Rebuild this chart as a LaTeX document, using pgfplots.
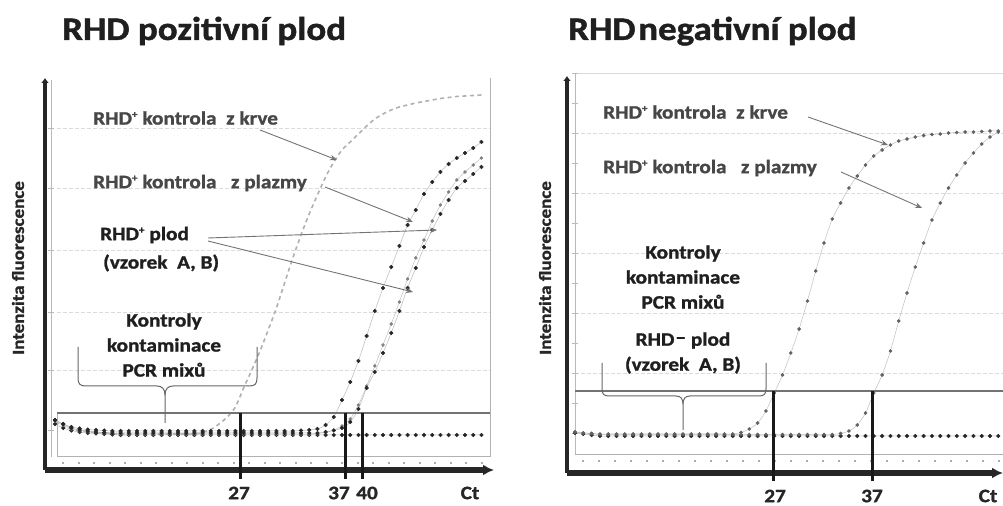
\documentclass[border=0pt]{standalone}
\usepackage{pgfplots}
\pgfplotsset{compat=1.18}
\usepackage{pgfplotstable}
\usetikzlibrary{arrows.meta}
\usepackage{fontspec}
\setmainfont{Carlito}[FakeStretch=1.12, BoldFeatures={FakeBold=1.3}]

\newcommand\ttl{\fontsize{33bp}{36bp}\selectfont\bfseries}
\newcommand\ann{\fontsize{19bp}{25bp}\selectfont\bfseries}
\newcommand\tlab{\fontsize{19bp}{22bp}\selectfont\bfseries}
\newcommand\ylab{\fontsize{17bp}{20bp}\selectfont\bfseries}
\newcommand\supsign[1]{\raisebox{0.75ex}{\fontsize{10bp}{10bp}\selectfont #1}}

% left panel: cycle, fluorescence (arbitrary units)
\pgfplotstableread{
c  neg  blood plasma A    B
1  46   48    50     49   50
2  42   44    46     45   46
3  39.5 41    43     41   42
4  38   39.5  41.5   39.5 40
5  37   38.5  40.5   38.5 39
6  36.5 37.5  40     37.5 38
7  36   37    39.5   37   37.5
8  35.5 36.5  39     36.5 37
9  35   36    39     36   37
10 35   36    39     36   37
11 35   36    39     36   37
12 35   36    39     36   37
13 35   36    39     36   37
14 35   36    39     36   37
15 35   36    39     36   37
16 35   36    39     36   37
17 35   36    39     36   37
18 35   36    39     36   37
19 35   37.5  39     36   37
20 35   40.5  39     36   37
21 35   46    39     36   37
22 35   53    39     36   37
23 35   63    39     36   37
24 35   82    39     36   37
25 35   100   39     36   37
26 35   119   39     36   37
27 35   140   39     36   37
28 35   162   39     36   37
29 35   187   39     36   37
30 35   212   39     36   37
31 35   235   39.5   36   37
32 35   256   40     36   37
33 35   275   41     36.5 37
34 35   293   45     37.5 38
35 35   308   53     40   39.5
36 35   320   70     44   42
37 35   328   88     51   48
38 35   336   109    65   61
39 35   344   134    84   82
40 35   351   159    104  98
41 35   356   182    125  117
42 35   360   203    146  137
43 35   363   224    168  159
44 35   365   245    191  182
45 35   367   260    212  202
46 35   368.5 276    230  223
47 35   370   288    249  240
48 35   371.5 298    265  256
49 35   372.5 306    278  270
50 35   373.5 312    290  282
51 35   374   317    298  289
52 35   374.5 322    305  296
53 35   375   328    312  303
}\leftdata

% right panel: cycle, fluorescence (arbitrary units)
\pgfplotstableread{
c  neg  blood plasma
1  40   41    41
2  39   40    40
3  38   39.5  39.5
4  37   39    38.5
5  37   39    38.5
6  37   39    38.5
7  37   39    38.5
8  37   39    38.5
9  37   39    38.5
10 37   39    38.5
11 37   39    38.5
12 37   39    38.5
13 37   39    38.5
14 37   39    38.5
15 37   39    38.5
16 37   39    38.5
17 37   39    38.5
18 37   39    38.5
19 37   39    38.5
20 37   39    38.5
21 37   40.5  38.5
22 37   44    38.5
23 37   50    38.5
24 37   62    38.5
25 37   80    38.5
26 37   98    38.5
27 37   120   38.5
28 37   144   38.5
29 37   172   38.5
30 37   202   38.5
31 37   230   38.5
32 37   254   38.5
33 37   270   39.5
34 37   285   42
35 37   297   48
36 37   308   60
37 37   317   80
38 37   323   98
39 37   328   122
40 37   332   152
41 37   334   180
42 37   336   206
43 37   337.5 230
44 37   338.5 253
45 37   339   270
46 37   340   285
47 37   340.5 298
48 37   341   310
49 37   341   320
50 37   341.5 329
51 37   342   336
52 37   342   341
}\rightdata

\tikzset{
  ann arrow/.style={draw=black!55, line width=0.9bp, -{Stealth[length=7bp,width=5.5bp]}},
  brc/.style={draw=black!60, line width=1bp},
  px/.style={x=1bp,y=-1bp,shift={(0bp,506bp)}}
}
\pgfplotsset{
  qpcr/.style={
    scale only axis, clip=false,
    ymin=0,
    axis x line=bottom, axis y line=left,
    x axis line style={line width=5bp, black!85, -{Latex[length=11bp,width=11bp]}},
    y axis line style={line width=4.5bp, black!85, -{Latex[length=5bp,width=8bp]}},
    ytick=\empty, major tick length=0pt,
    xticklabel style={anchor=center, yshift=-23bp, font=\tlab, text=black!85},
  },
  dotblack/.style={draw=gray!55, line width=0.5bp, smooth, mark=*, mark size=1.8bp,
    mark options={draw=black!85, fill=black!85, solid}},
  dotgray/.style={draw=gray!50, line width=0.5bp, smooth, mark=*, mark size=1.45bp,
    mark options={draw=black!50, fill=black!50, solid}},
  dotdark/.style={draw=gray!50, line width=0.5bp, smooth, mark=*, mark size=1.55bp,
    mark options={draw=black!62, fill=black!62, solid}},
}

\begin{document}
\begin{tikzpicture}
% ---------- background structure (pixel frame) ----------
\begin{scope}[px]
  % left panel
  \foreach \yy in {128,188,250,312,370}
    \draw[gray!28, line width=0.8bp, dash pattern=on 4bp off 2bp] (57,\yy) -- (490,\yy);
  \draw[gray!55, line width=0.9bp] (51,80) -- (51,457);
  \foreach \yy in {128,188,250,312,370,430}
    \draw[gray!55, line width=0.8bp] (48,\yy) -- (54,\yy);
  \draw[gray!60, line width=1bp] (490,78) -- (490,457);
  \draw[gray!60, line width=1bp] (57,457) -- (490,457);
  \draw[gray!60, line width=1bp] (57,413) -- (57,457);
  \draw[gray!65, line width=2bp, dash pattern=on 2bp off 13.5bp] (62,463) -- (490,463);
  % right panel
  \foreach \yy in {133,193,253,313,373}
    \draw[gray!28, line width=0.8bp, dash pattern=on 4bp off 2bp] (575,\yy) -- (1003,\yy);
  \draw[gray!30, line width=0.8bp] (575,73) -- (1003,73);
  \draw[gray!55, line width=0.9bp] (575,73) -- (575,455);
  \foreach \yy in {73,103,133,163,193,223,253,283,313,343,373,403,433}
    \draw[gray!55, line width=0.8bp] (572,\yy) -- (578,\yy);
  \draw[gray!60, line width=1bp] (575,455) -- (1003,455);
  \draw[gray!65, line width=2bp, dash pattern=on 2bp off 14bp] (582,461) -- (1003,461);
\end{scope}

% ---------- left axis: RHD positive fetus ----------
\begin{axis}[qpcr,
  at={(45bp,36bp)}, anchor=south west,
  width=449bp, height=392bp,
  xmin=-0.2195, xmax=54.537, ymax=392,
  xtick={23.44,35.63,39.05,51.61}, xticklabels={27,37,40,Ct},
]
  \addplot[dotblack] table[x=c,y=neg] {\leftdata};
  \addplot[gray!62, line width=1.6bp, dash pattern=on 4bp off 3.5bp, smooth] table[x=c,y=blood] {\leftdata};
  \addplot[dotgray] table[x=c,y=A] {\leftdata};
  \addplot[dotblack] table[x=c,y=B] {\leftdata};
  \addplot[dotblack] table[x=c,y=plasma] {\leftdata};
\end{axis}

% ---------- right axis: RHD negative fetus ----------
\begin{axis}[qpcr,
  at={(567bp,33bp)}, anchor=south west,
  width=436bp, height=397bp,
  xmin=0.036, xmax=52.566, ymax=397,
  xtick={25.10,36.78,50.76}, xticklabels={27,37,Ct},
]
  \addplot[dotblack] table[x=c,y=neg] {\rightdata};
  \addplot[dotdark] table[x=c,y=blood] {\rightdata};
  \addplot[dotdark] table[x=c,y=plasma] {\rightdata};
\end{axis}

% ---------- overlay: thresholds, Ct lines, annotations ----------
\begin{scope}[px]
  % thresholds
  \draw[black!55, line width=1.3bp] (57,413) -- (490,413);
  \draw[black!55, line width=1.5bp] (575,391) -- (1003,391);
  % Ct lines
  \foreach \xx in {240,345,362}
    \draw[black!90, line width=3bp] (\xx,413) -- (\xx,479);
  \foreach \xx in {773,872}
    \draw[black!90, line width=3bp] (\xx,391) -- (\xx,481);

  % titles
  \node[anchor=base west, font=\ttl, text=black!88, inner sep=0] at (62,40) {RHD pozitivní plod};
  \node[anchor=base west, font=\ttl, text=black!88, inner sep=0] at (568,40) {RHD\hspace{0.08em}negativní plod};

  % y labels
  \node[rotate=90, font=\ylab, text=black!85] at (18,268) {Intenzita fluorescence};
  \node[rotate=90, font=\ylab, text=black!85] at (545,268) {Intenzita fluorescence};

  % left annotations
  \node[anchor=west, font=\ann, text=black!72, inner sep=0] at (93,118) {RHD\supsign{+} kontrola\ \ z krve};
  \node[anchor=west, font=\ann, text=black!72, inner sep=0] at (93,183) {RHD\supsign{+} kontrola\ \ \ z plazmy};
  \node[anchor=west, font=\ann, text=black!88, inner sep=0] at (100,235) {RHD\supsign{+} plod};
  \node[anchor=west, font=\ann, text=black!88, inner sep=0] at (103,263) {(vzorek\ \ A, B)};
  \node[align=center, font=\ann, text=black!88, inner sep=0] at (164,345) {Kontroly\\kontaminace\\PCR mixů};
  \draw[ann arrow] (260,130) -- (337,160);
  \draw[ann arrow] (325,187) -- (413,222);
  \draw[ann arrow] (208,238) -- (437,230);
  \draw[ann arrow] (208,241) -- (413,292);
  \draw[brc] (78,347) -- (78,378) .. controls (78,384) and (80,386) .. (86,386) -- (157,386)
     .. controls (162,386) and (165,389) .. (165,395) -- (165,423);
  \draw[brc] (165,395) .. controls (165,389) and (168,386) .. (173,386) -- (249,386)
     .. controls (255,386) and (257,384) .. (257,378) -- (257,347);

  % right annotations
  \node[anchor=west, font=\ann, text=black!72, inner sep=0] at (603,112) {RHD\supsign{+} kontrola\ \ z krve};
  \node[anchor=west, font=\ann, text=black!72, inner sep=0] at (603,168) {RHD\supsign{+} kontrola\ \ \ z plazmy};
  \draw[ann arrow] (808,117) -- (888,145);
  \draw[ann arrow] (841,172) -- (922,208);
  \node[align=center, font=\ann, text=black!88, inner sep=0] at (683,277) {Kontroly\\kontaminace\\PCR mixů};
  \node[align=center, font=\ann, text=black!88, inner sep=0] at (683,353) {RHD\kern1bp\raisebox{0.25ex}{–} plod\\(vzorek\ \ A, B)};
  \draw[brc] (602,363) -- (602,389) .. controls (602,394) and (604,396) .. (609,396) -- (676,396)
     .. controls (681,396) and (683,399) .. (683,404) -- (683,430);
  \draw[brc] (683,404) .. controls (683,399) and (685,396) .. (690,396) -- (759,396)
     .. controls (764,396) and (766,394) .. (766,389) -- (766,363);
\end{scope}

\pgfresetboundingbox
\path[use as bounding box] (0,0) rectangle (1003bp,506bp);
\end{tikzpicture}
\end{document}
